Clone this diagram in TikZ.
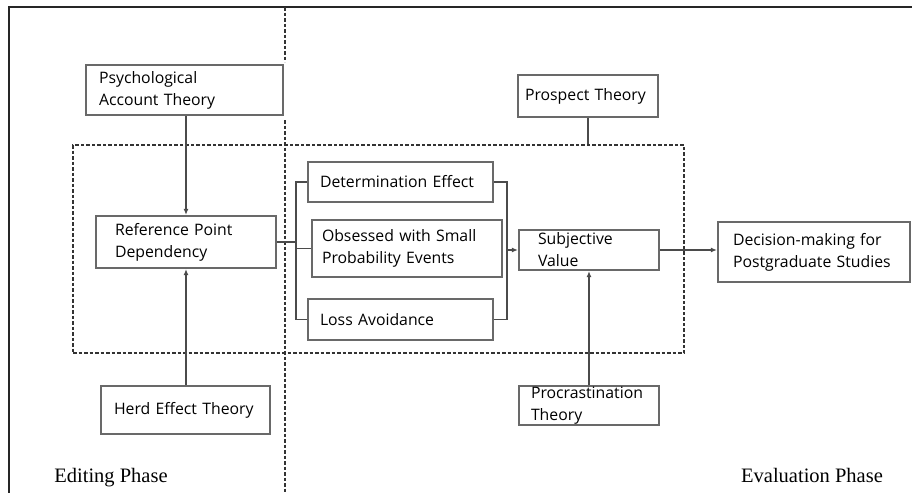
\documentclass[tikz,border=0pt]{standalone}
\usepackage{fontspec}
\setmainfont{Liberation Serif}
\newfontfamily\boxfont{Open Sans}
\usetikzlibrary{arrows.meta}
\definecolor{boxgray}{RGB}{105,105,105}
\definecolor{linegray}{RGB}{75,75,75}
\tikzset{
  tbox/.style={draw=boxgray, line width=2.2pt, align=left, inner ysep=0pt,
    font=\boxfont\fontsize{15.8}{22}\selectfont, text=black},
  conn/.style={draw=linegray, line width=1.6pt},
  arr/.style={conn, -{Latex[length=6pt,width=5pt]}},
  dashline/.style={draw=black!80, line width=1.7pt, dash pattern=on 3.5pt off 2pt},
  phase/.style={font=\fontsize{20.5}{24}\selectfont, inner sep=0pt}
}
\begin{document}
\begin{tikzpicture}[x=1pt,y=-1pt]
\useasboundingbox (0,0) rectangle (912,493);
% outer frame (top and left only)
\draw[black!85, line width=1.8pt] (912,7) -- (9,7) -- (9,493);
% vertical dotted divider
\draw[dashline] (285,7) -- (285,62);
\draw[dashline] (285,120) -- (285,493);
% dashed group
\node[dashline, draw, minimum width=611pt, minimum height=208pt, inner sep=0pt] (grp) at (378.5,249) {};
% boxes
\node[tbox, minimum width=197pt, minimum height=50pt, inner xsep=13pt, text width=171pt] (psy) at (184.5,90) {Psychological\\Account Theory};
\node[tbox, minimum width=180pt, minimum height=52pt, inner xsep=19pt, text width=142pt] (rpd) at (186,242) {Reference Point\\Dependency};
\node[tbox, minimum width=169pt, minimum height=48pt, inner xsep=13pt, text width=143pt] (herd) at (185.5,410) {\raisebox{4pt}{Herd Effect Theory}};
\node[tbox, minimum width=185pt, minimum height=40pt, inner xsep=12pt, text width=161pt] (det) at (400.5,182) {Determination Effect};
\node[tbox, minimum width=190pt, minimum height=57pt, inner xsep=10pt, text width=170pt] (obs) at (407,248.5) {Obsessed with Small\\Probability Events};
\node[tbox, minimum width=185pt, minimum height=41pt, inner xsep=12pt, text width=161pt] (loss) at (400.5,319.5) {Loss Avoidance};
\node[tbox, minimum width=140pt, minimum height=40pt, inner xsep=19pt, text width=102pt] (subj) at (589,250) {Subjective\\Value};
\node[tbox, minimum width=192pt, minimum height=60pt, inner xsep=15pt, text width=162pt] (dec) at (814,252) {Decision-making for\\Postgraduate Studies};
\node[tbox, minimum width=140pt, minimum height=42pt, inner xsep=7pt, text width=126pt] (pros) at (588,96) {Prospect Theory};
\node[tbox, minimum width=140pt, minimum height=39pt, inner xsep=12pt, text width=116pt] (proc) at (589,405.5) {Procrastination\\Theory};
% phase labels
\node[phase] (edit) at (111,478) {Editing Phase};
\node[phase] (eval) at (812,475) {Evaluation Phase};
% bracket coordinates
\coordinate (lb) at (296,248.5);
\coordinate (rb) at (507,250);
% connectors
\draw[arr] (psy.south -| rpd) -- (rpd.north);
\draw[arr] (herd.north -| rpd) -- (rpd.south);
\draw[conn] (pros.south) -- (pros.south |- grp.north);
\draw[arr] (proc.north) -- (subj.south);
\draw[arr] (subj.east) -- (dec.west |- subj.east);
\draw[conn] (rpd.east) -- (rpd.east -| lb);
\draw[conn] (det.west) -| (lb) |- (loss.west);
\draw[conn] (lb) -- (obs.west);
\draw[conn] (det.east) -| (rb) |- (loss.east);
\draw[arr] (rb) -- (subj.west);
\end{tikzpicture}
\end{document}
